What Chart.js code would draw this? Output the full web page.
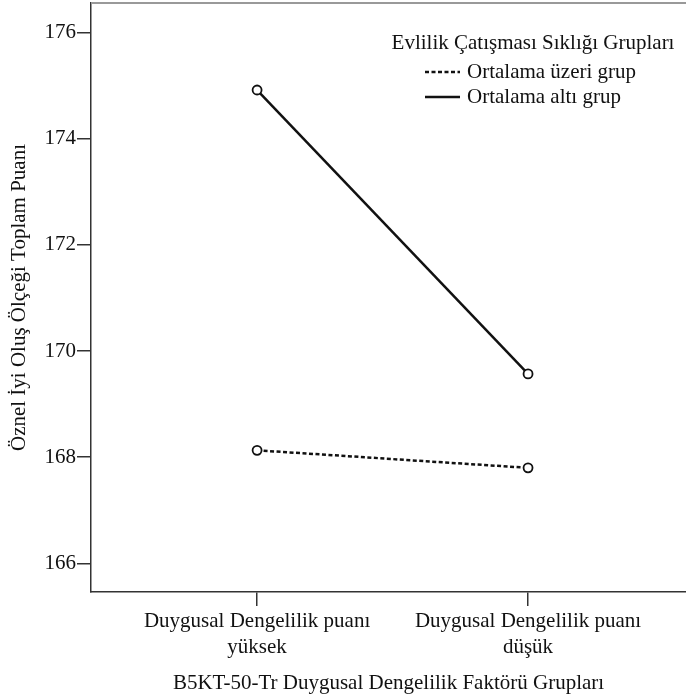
<!DOCTYPE html>
<html>
<head>
<meta charset="utf-8">
<script src="https://cdn.jsdelivr.net/npm/chart.js@4/dist/chart.umd.min.js"></script>
<style>
  html, body { margin: 0; padding: 0; background: #fff; }
  #wrap { width: 686px; height: 699px; }
</style>
</head>
<body>
<div id="wrap"><canvas id="myChart"></canvas></div>
<script>
// datos del grafico
const categories = [['Duygusal Dengelilik puanı', 'yüksek'], ['Duygusal Dengelilik puanı', 'düşük']];
const seriesNames = ['Ortalama üzeri grup', 'Ortalama altı grup'];
const aboveValues = [168.13, 167.80];
const belowValues = [174.92, 169.57];
const yTicks = [166, 168, 170, 172, 174, 176];
const legendTitle = 'Evlilik Çatışması Sıklığı Grupları';
const xTitle = 'B5KT-50-Tr Duygusal Dengelilik Faktörü Grupları';
const yTitle = 'Öznel İyi Oluş Ölçeği Toplam Puanı';

const FONT = 'Liberation Serif';
const SIZE = 21;
const INK = '#111';

const toPoints = (vals) => vals.map((v, i) => ({ x: i, y: v }));

// leyenda dentro del area + borde superior gris
const insideLegend = {
  id: 'insideLegend',
  afterDraw(chart) {
    const ctx = chart.ctx;
    const a = chart.chartArea;
    ctx.save();
    ctx.strokeStyle = '#999';
    ctx.lineWidth = 2;
    ctx.beginPath();
    ctx.moveTo(a.left, a.top);
    ctx.lineTo(a.right, a.top);
    ctx.stroke();

    ctx.font = SIZE + 'px "' + FONT + '"';
    ctx.fillStyle = INK;
    ctx.textBaseline = 'middle';
    ctx.textAlign = 'center';
    ctx.fillText(legendTitle, a.left + 442, a.top + 40);
    chart.data.datasets.forEach((ds, i) => {
      const y = a.top + 69 + i * 25;
      ctx.setLineDash(ds.borderDash || []);
      ctx.lineWidth = ds.borderWidth;
      ctx.strokeStyle = ds.borderColor;
      ctx.beginPath();
      ctx.moveTo(a.left + 334, y);
      ctx.lineTo(a.left + 369, y);
      ctx.stroke();
      ctx.setLineDash([]);
      ctx.textAlign = 'left';
      ctx.fillText(ds.label, a.left + 376, y);
    });
    ctx.restore();
  }
};

const data = {
  datasets: [{
    label: seriesNames[0],
    data: toPoints(aboveValues),
    borderColor: INK,
    borderWidth: 2.5,
    borderDash: [4, 2.5],
    pointRadius: 4.5,
    pointBorderWidth: 1.8,
    pointBackgroundColor: '#fff',
    pointBorderColor: INK
  }, {
    label: seriesNames[1],
    data: toPoints(belowValues),
    borderColor: INK,
    borderWidth: 2.5,
    pointRadius: 4.5,
    pointBorderWidth: 1.8,
    pointBackgroundColor: '#fff',
    pointBorderColor: INK
  }]
};

const config = {
  type: 'line',
  data,
  plugins: [insideLegend],
  options: {
    responsive: true,
    maintainAspectRatio: false,
    animation: false,
    layout: { autoPadding: false, padding: { top: 3, right: 0, left: 0, bottom: 0 } },
    plugins: {
      legend: { display: false },
      tooltip: { enabled: false }
    },
    scales: {
      x: {
        type: 'linear',
        min: -0.613,
        max: 1.583,
        afterBuildTicks: (s) => { s.ticks = categories.map((c, i) => ({ value: i })); },
        afterFit: (s) => { s.height = 107; s.paddingLeft = 0; s.paddingRight = 0; },
        grid: { drawOnChartArea: false, drawTicks: true, tickLength: 14, color: '#333', lineWidth: 1.5 },
        border: { display: true, color: '#333', width: 1.5 },
        ticks: {
          autoSkip: false,
          maxRotation: 0,
          padding: 2,
          color: INK,
          font: { family: FONT, size: SIZE, lineHeight: 1.25 },
          callback: (v) => categories[v]
        },
        title: {
          display: true,
          text: xTitle,
          color: INK,
          padding: { top: 0, bottom: 3 },
          font: { family: FONT, size: SIZE }
        }
      },
      y: {
        min: 165.46,
        max: 176.56,
        afterBuildTicks: (s) => { s.ticks = yTicks.map(v => ({ value: v })); },
        afterFit: (s) => { s.width = 91; s.paddingTop = 0; s.paddingBottom = 0; },
        grid: { drawOnChartArea: false, drawTicks: true, tickLength: 14, color: '#333', lineWidth: 1.5 },
        border: { display: true, color: '#333', width: 1.5 },
        ticks: {
          padding: 1,
          color: INK,
          font: { family: FONT, size: SIZE }
        },
        title: {
          display: true,
          text: yTitle,
          color: INK,
          padding: { top: 7, bottom: 0 },
          font: { family: FONT, size: SIZE }
        }
      }
    }
  }
};

const myChart = new Chart(
  document.getElementById('myChart'),
  config
);
</script>
</body>
</html>
